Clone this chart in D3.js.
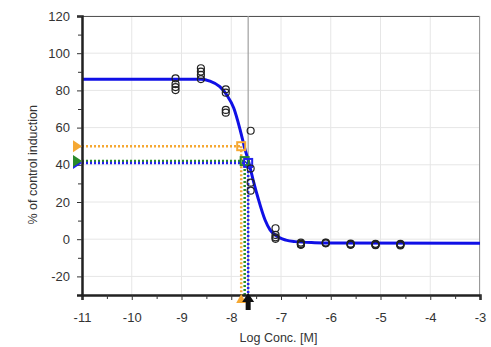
<!DOCTYPE html>
<html>
<head>
<meta charset="utf-8">
<script src="https://cdn.jsdelivr.net/npm/d3@7"></script>
<style>
  body { margin: 0; background: #fff; }
  .tick text { font-family: "Liberation Sans", Arial, sans-serif; font-size: 13px; fill: #333; }
</style>
</head>
<body>
<div id="vis"></div>
<script>
// data
const concX = [-9.12, -8.61, -8.11, -7.61, -7.11, -6.6, -6.1, -5.6, -5.1, -4.6];
const replicates = [
  [86.5, 83.4, 81.8, 80.2],
  [91.9, 90.1, 88.3, 86.1],
  [80.6, 78.8, 69.5, 68.0],
  [58.3, 38.0, 30.4, 26.1],
  [5.9, 2.3, 1.0, 0.2],
  [-1.8, -2.5, -2.8, -3.0],
  [-1.8, -2.0, -2.2],
  [-2.4, -2.8, -3.0, -2.6],
  [-2.5, -3.0, -3.2, -2.8],
  [-2.5, -3.0, -3.4, -2.8]
];

// fitted curve
const curveX = [-11, -8.6, -8.43, -8.23, -8.09, -7.95, -7.82, -7.72, -7.66, -7.56, -7.46, -7.32, -7.22, -7.12, -6.9, -6.72, -6.32, -6, -3];
const curveY = [86.0, 86.0, 85.0, 82.0, 77.5, 70.5, 58.7, 48.0, 42.6, 31.8, 22.0, 10.3, 5.0, 2.3, -0.5, -1.3, -1.9, -2.1, -2.2];

// marker lines (orange, green, blue)
const markerX = [-7.80, -7.73, -7.66];
const markerY = [50, 42, 41];
const ec50X = -7.66;

const xTicks = [-11, -10, -9, -8, -7, -6, -5, -4, -3];
const yTicks = [-20, 0, 20, 40, 60, 80, 100, 120];

// setting constants
const FRAME_WIDTH = 491;
const FRAME_HEIGHT = 347;
const MARGINS = {left: 82, right: 11, top: 16, bottom: 52};
const VIS_WIDTH = FRAME_WIDTH - MARGINS.left - MARGINS.right;
const VIS_HEIGHT = FRAME_HEIGHT - MARGINS.top - MARGINS.bottom;
const MARKER_COLORS = ["#f5a833", "#2a8a2a", "#2222ee"];

const FRAME = d3.select("#vis")
  .append("svg")
  .attr("width", FRAME_WIDTH)
  .attr("height", FRAME_HEIGHT);

const X_SCALE = d3.scaleLinear().domain([-11, -3]).range([0, VIS_WIDTH]);
const Y_SCALE = d3.scaleLinear().domain([-30, 120]).range([VIS_HEIGHT, 0]);

const G = FRAME.append("g")
  .attr("transform", "translate(" + MARGINS.left + "," + MARGINS.top + ")");

// grid
G.selectAll(".vgrid").data(xTicks).enter().append("line")
  .attr("x1", d => X_SCALE(d)).attr("x2", d => X_SCALE(d))
  .attr("y1", 0).attr("y2", VIS_HEIGHT)
  .attr("stroke", "#e6e6e6").attr("stroke-width", 1);
G.selectAll(".hgrid").data(yTicks).enter().append("line")
  .attr("x1", 0).attr("x2", VIS_WIDTH)
  .attr("y1", d => Y_SCALE(d)).attr("y2", d => Y_SCALE(d))
  .attr("stroke", "#e6e6e6").attr("stroke-width", 1);

// frame top/right
G.append("line").attr("x1", 0).attr("x2", VIS_WIDTH).attr("y1", 0.5).attr("y2", 0.5)
  .attr("stroke", "#555");
G.append("line").attr("x1", VIS_WIDTH - 0.5).attr("x2", VIS_WIDTH - 0.5).attr("y1", 0).attr("y2", VIS_HEIGHT)
  .attr("stroke", "#999");

// EC50 vertical line
G.append("line")
  .attr("x1", X_SCALE(ec50X)).attr("x2", X_SCALE(ec50X))
  .attr("y1", 0).attr("y2", VIS_HEIGHT)
  .attr("stroke", "#a0a0a0").attr("stroke-width", 1.2);

// dotted marker lines
markerX.forEach((mx, i) => {
  G.append("line")
    .attr("x1", X_SCALE(-11)).attr("x2", X_SCALE(mx))
    .attr("y1", Y_SCALE(markerY[i])).attr("y2", Y_SCALE(markerY[i]))
    .attr("stroke", MARKER_COLORS[i]).attr("stroke-width", 2.5)
    .attr("stroke-dasharray", "2,2");
  G.append("line")
    .attr("x1", X_SCALE(mx)).attr("x2", X_SCALE(mx))
    .attr("y1", Y_SCALE(markerY[i])).attr("y2", VIS_HEIGHT)
    .attr("stroke", MARKER_COLORS[i]).attr("stroke-width", 2.5)
    .attr("stroke-dasharray", "2,2");
});

// fitted curve
const curvePts = curveX.map((x, i) => [x, curveY[i]]);
G.append("path")
  .datum(curvePts)
  .attr("fill", "none")
  .attr("stroke", "#1010e6")
  .attr("stroke-width", 3)
  .attr("d", d3.line().x(d => X_SCALE(d[0])).y(d => Y_SCALE(d[1])).curve(d3.curveMonotoneX));

// marker squares
markerX.forEach((mx, i) => {
  G.append("rect")
    .attr("x", X_SCALE(mx) - 4).attr("y", Y_SCALE(markerY[i]) - 4)
    .attr("width", 8).attr("height", 8)
    .attr("fill", "none")
    .attr("stroke", MARKER_COLORS[i]).attr("stroke-width", 2);
});

// data points
const points = [];
concX.forEach((x, i) => replicates[i].forEach(v => points.push([x, v])));
G.selectAll(".point").data(points).enter().append("circle")
  .attr("cx", d => X_SCALE(d[0]))
  .attr("cy", d => Y_SCALE(d[1]))
  .attr("r", 3.5)
  .attr("fill", "none")
  .attr("stroke", "#222")
  .attr("stroke-width", 1.2);

// axes
const xAxis = G.append("g")
  .attr("transform", "translate(0," + VIS_HEIGHT + ")")
  .call(d3.axisBottom(X_SCALE).tickValues(xTicks).tickSize(5).tickPadding(13).tickFormat(d3.format("d")));
G.append("g")
  .attr("transform", "translate(0," + VIS_HEIGHT + ")")
  .call(d3.axisBottom(X_SCALE).tickValues(d3.range(-10.5, -3, 1)).tickSize(4).tickFormat(""))
  .select(".domain").remove();
const yAxis = G.append("g")
  .call(d3.axisLeft(Y_SCALE).tickValues(yTicks).tickSize(5).tickPadding(7));
G.append("g")
  .call(d3.axisLeft(Y_SCALE).tickValues(d3.range(-10, 120, 20)).tickSize(4).tickFormat(""))
  .select(".domain").remove();
G.selectAll(".domain").attr("stroke", "#222").attr("stroke-width", 2.5);
G.selectAll(".tick line").attr("stroke", "#333");
xAxis.selectAll(".tick text").text(d => d3.format("d")(d).replace("\u2212", "-"));
yAxis.selectAll(".tick text").text(d => d3.format("d")(d).replace("\u2212", "-"));

// left triangles (blue first so green/orange sit on top)
[2, 1, 0].forEach(i => {
  const y = Y_SCALE(markerY[i]);
  G.append("path")
    .attr("d", d3.line()([[-9, y - 6], [0, y], [-9, y + 6]]) + "Z")
    .attr("fill", MARKER_COLORS[i]);
});

// bottom markers
const bx0 = X_SCALE(markerX[0]);
G.append("path")
  .attr("d", d3.line()([[bx0 - 5, VIS_HEIGHT + 8], [bx0, VIS_HEIGHT - 1], [bx0 + 5, VIS_HEIGHT + 8]]) + "Z")
  .attr("fill", MARKER_COLORS[0]);
const bx = X_SCALE(ec50X);
G.append("path")
  .attr("d", d3.line()([
    [bx - 6, VIS_HEIGHT + 7], [bx, VIS_HEIGHT - 2], [bx + 6, VIS_HEIGHT + 7],
    [bx + 2.5, VIS_HEIGHT + 7], [bx + 2.5, VIS_HEIGHT + 15],
    [bx - 2.5, VIS_HEIGHT + 15], [bx - 2.5, VIS_HEIGHT + 7]
  ]) + "Z")
  .attr("fill", "#111");

// axis titles
FRAME.append("text")
  .attr("x", MARGINS.left + X_SCALE(-7.05))
  .attr("y", 342)
  .attr("text-anchor", "middle")
  .attr("font-family", "Liberation Sans, Arial, sans-serif")
  .attr("font-size", 12.5)
  .attr("fill", "#333")
  .text("Log Conc. [M]");
FRAME.append("text")
  .attr("transform", "translate(37," + (MARGINS.top + Y_SCALE(40)) + ") rotate(-90)")
  .attr("text-anchor", "middle")
  .attr("font-family", "Liberation Sans, Arial, sans-serif")
  .attr("font-size", 12.5)
  .attr("fill", "#333")
  .text("% of control induction");
</script>
</body>
</html>
